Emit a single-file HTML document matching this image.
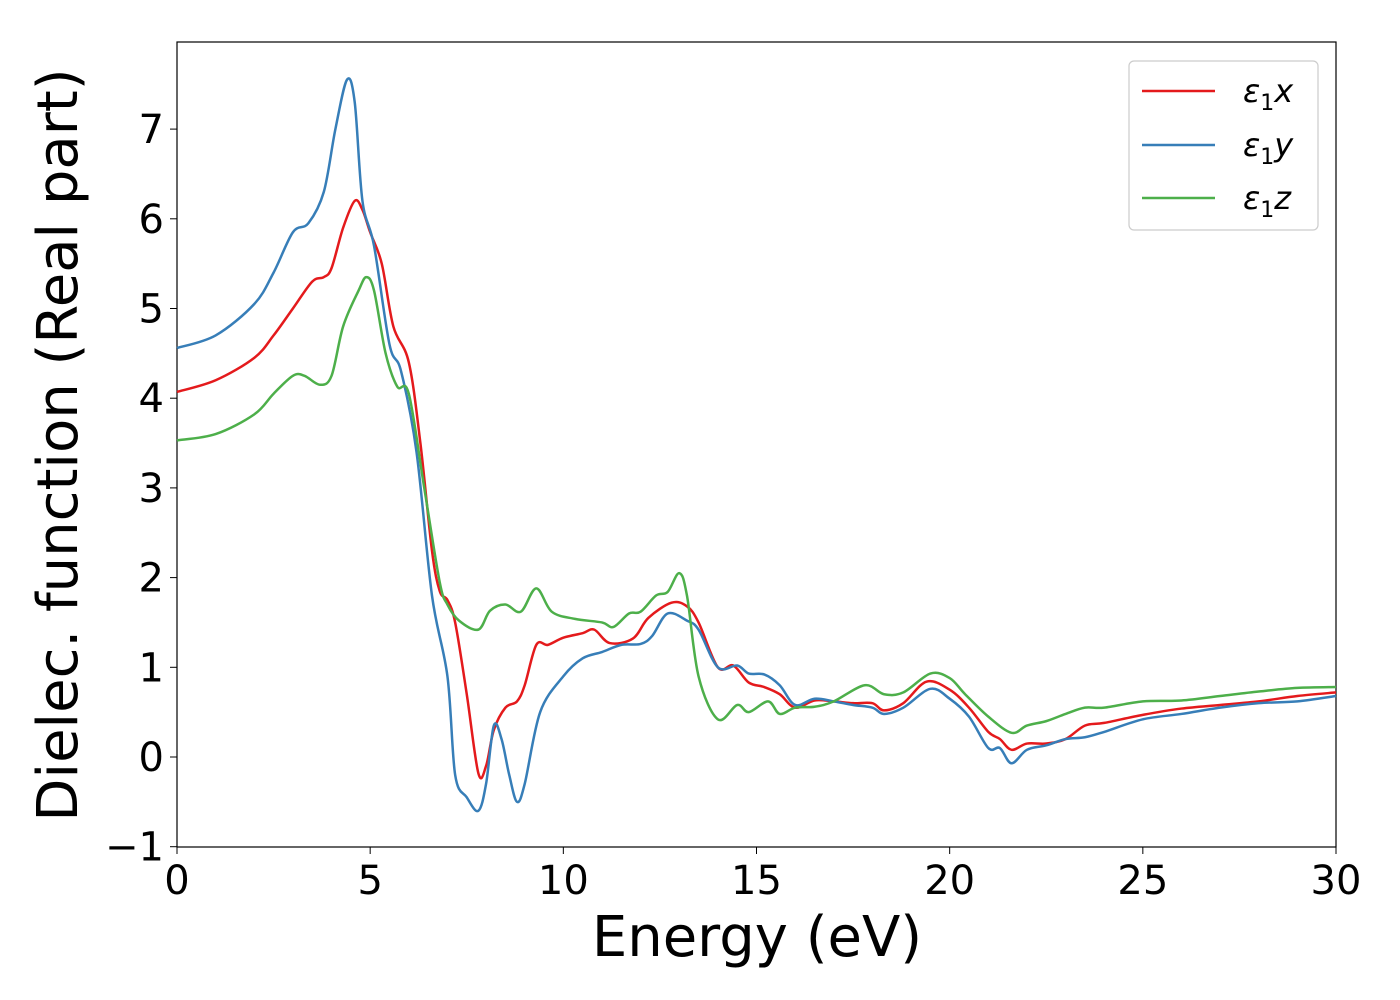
<!DOCTYPE html>
<html><head><meta charset="utf-8"><style>
html,body{margin:0;padding:0;background:#fff;}
svg{display:block;font-family:"DejaVu Sans","Liberation Sans",sans-serif;}
</style></head><body>
<svg id="chart" width="1400" height="1000">
<rect x="177" y="42" width="1159" height="805" fill="#fff" stroke="#000" stroke-width="1.2"/>
<g id="series"></g>
<g id="xticks"></g>
<g id="yticks"></g>
<text x="757" y="956" font-size="56" text-anchor="middle">Energy (eV)</text>
<text transform="translate(77,445) rotate(-90)" font-size="56" text-anchor="middle">Dielec. function (Real part)</text>
<g>
<rect x="1129" y="61" width="189" height="169" rx="5" fill="#fff" stroke="#ccc" stroke-width="1.2"/>
<line x1="1142" y1="91" x2="1215" y2="91" stroke="#e41a1c" stroke-width="2.5"/>
<text x="1243" y="102" font-size="32" font-style="italic">ε<tspan font-size="22" dy="8" font-style="normal">1</tspan><tspan dy="-8">x</tspan></text>
<line x1="1142" y1="145" x2="1215" y2="145" stroke="#377eb8" stroke-width="2.5"/>
<text x="1243" y="156" font-size="32" font-style="italic">ε<tspan font-size="22" dy="8" font-style="normal">1</tspan><tspan dy="-8">y</tspan></text>
<line x1="1142" y1="198" x2="1215" y2="198" stroke="#4daf4a" stroke-width="2.5"/>
<text x="1243" y="209" font-size="32" font-style="italic">ε<tspan font-size="22" dy="8" font-style="normal">1</tspan><tspan dy="-8">z</tspan></text>
</g>
</svg>
<script>
const xTickLabels=[0,5,10,15,20,25,30];
const yTickLabels=[-1,0,1,2,3,4,5,6,7];
const eX=[0,1,2,2.5,3,3.5,3.8,4,4.3,4.6,4.8,5,5.3,5.6,6,6.3,6.6,6.8,7,7.2,7.5,7.8,8,8.2,8.5,8.8,9,9.3,9.6,10,10.5,10.8,11.2,11.8,12.2,12.8,13.2,13.5,14,14.4,14.8,15.2,15.6,16,16.5,17,17.5,18,18.3,18.8,19.4,20,20.5,21,21.3,21.6,22,22.5,23,23.5,24,25,26,27,28,29,30];
const valX=[4.07,4.2,4.45,4.7,5.0,5.3,5.35,5.45,5.9,6.2,6.1,5.85,5.5,4.8,4.4,3.5,2.3,1.85,1.75,1.5,0.7,-0.18,-0.1,0.3,0.55,0.62,0.8,1.25,1.25,1.33,1.38,1.42,1.27,1.32,1.55,1.72,1.68,1.5,1.0,1.02,0.83,0.78,0.7,0.55,0.63,0.62,0.6,0.6,0.52,0.6,0.84,0.75,0.55,0.28,0.2,0.08,0.15,0.15,0.2,0.35,0.38,0.47,0.54,0.58,0.62,0.68,0.72];
const eY=[0,1,2,2.5,3,3.4,3.8,4.1,4.4,4.6,4.8,5.1,5.5,5.8,6.2,6.6,7,7.2,7.5,7.8,8,8.2,8.4,8.6,8.8,9,9.4,10,10.5,11,11.5,12,12.3,12.7,13.2,13.5,14,14.5,14.8,15.2,15.6,16,16.5,17,17.5,18,18.3,18.8,19.5,20,20.5,21,21.3,21.6,22,22.5,23,23.5,24,25,26,27,28,29,30];
const valY=[4.56,4.7,5.05,5.4,5.85,5.95,6.3,7.0,7.55,7.3,6.2,5.7,4.6,4.3,3.4,1.8,0.9,-0.2,-0.45,-0.6,-0.3,0.35,0.2,-0.2,-0.5,-0.3,0.5,0.9,1.1,1.17,1.25,1.26,1.35,1.6,1.52,1.42,1.0,1.02,0.93,0.92,0.8,0.58,0.65,0.62,0.58,0.55,0.48,0.55,0.76,0.65,0.45,0.1,0.1,-0.07,0.08,0.13,0.2,0.22,0.28,0.42,0.48,0.55,0.6,0.62,0.68];
const eZ=[0,1,2,2.5,3,3.3,3.7,4,4.3,4.7,4.9,5.1,5.4,5.7,6,6.4,6.8,7,7.3,7.8,8.1,8.5,8.9,9.3,9.7,10.3,11,11.3,11.7,12,12.4,12.7,13,13.2,13.5,14,14.5,14.8,15.3,15.6,16,16.5,17,17.8,18.3,18.8,19.5,20,20.4,21,21.6,22,22.5,23,23.5,24,25,26,27,28,29,30];
const valZ=[3.53,3.6,3.82,4.05,4.25,4.25,4.15,4.25,4.8,5.2,5.35,5.2,4.5,4.13,4.05,3.0,1.95,1.7,1.52,1.42,1.63,1.7,1.62,1.88,1.62,1.54,1.5,1.45,1.6,1.62,1.8,1.84,2.05,1.8,0.9,0.42,0.58,0.5,0.62,0.48,0.55,0.56,0.62,0.8,0.7,0.72,0.93,0.88,0.7,0.45,0.27,0.35,0.4,0.48,0.55,0.55,0.62,0.63,0.68,0.73,0.77,0.78];

const NS="http://www.w3.org/2000/svg";
const xS=e=>177+e*(1159/30);
const yS=v=>757-v*89.7;
function pathFor(es,vs){
  const p=es.map((e,i)=>[xS(e),yS(vs[i])]);
  let d="M"+p[0][0]+","+p[0][1];
  for(let i=0;i<p.length-1;i++){
    const p0=p[Math.max(0,i-1)],p1=p[i],p2=p[i+1],p3=p[Math.min(p.length-1,i+2)];
    const c1=[p1[0]+(p2[0]-p0[0])/6,p1[1]+(p2[1]-p0[1])/6];
    const c2=[p2[0]-(p3[0]-p1[0])/6,p2[1]-(p3[1]-p1[1])/6];
    d+=" C"+c1+" "+c2+" "+p2;
  }
  return d;
}
const g=document.getElementById("series");
[[eX,valX,"#e41a1c","series-eps1-x"],[eY,valY,"#377eb8","series-eps1-y"],[eZ,valZ,"#4daf4a","series-eps1-z"]].forEach(s=>{
  const el=document.createElementNS(NS,"path");
  el.setAttribute("d",pathFor(s[0],s[1]));
  el.setAttribute("fill","none");el.setAttribute("stroke",s[2]);el.setAttribute("stroke-width","2.5");
  
  
  g.appendChild(el);
});
const xt=document.getElementById("xticks");
xTickLabels.forEach(v=>{
  const l=document.createElementNS(NS,"line");
  l.setAttribute("x1",xS(v));l.setAttribute("x2",xS(v));l.setAttribute("y1",847);l.setAttribute("y2",854);l.setAttribute("stroke","#000");
  
  
  xt.appendChild(l);
  const t=document.createElementNS(NS,"text");
  t.setAttribute("x",xS(v));t.setAttribute("y",894);t.setAttribute("font-size","40");t.setAttribute("text-anchor","middle");
  t.textContent=v;
  
  
  xt.appendChild(t);
});
const yt=document.getElementById("yticks");
yTickLabels.forEach(v=>{
  const l=document.createElementNS(NS,"line");
  l.setAttribute("x1",170);l.setAttribute("x2",177);l.setAttribute("y1",yS(v));l.setAttribute("y2",yS(v));l.setAttribute("stroke","#000");
  
  
  yt.appendChild(l);
  const t=document.createElementNS(NS,"text");
  t.setAttribute("x",164);t.setAttribute("y",yS(v)+14);t.setAttribute("font-size","40");t.setAttribute("text-anchor","end");
  t.textContent=v<0?"\u2212"+(-v):v;
  
  
  yt.appendChild(t);
});
</script>
</body></html>
